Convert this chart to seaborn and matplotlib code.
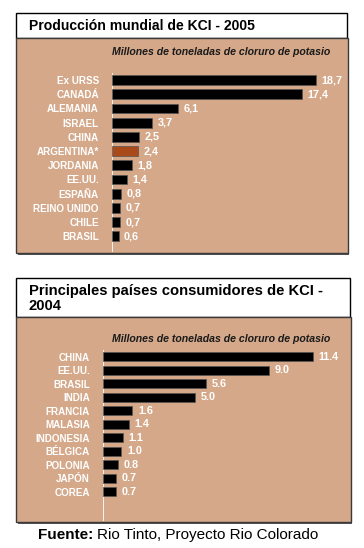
import pandas as pd
import matplotlib.pyplot as plt
import seaborn as sns
from matplotlib.patches import Rectangle

# datos
prod_paises = ["Ex URSS", "CANADÁ", "ALEMANIA", "ISRAEL", "CHINA", "ARGENTINA*",
               "JORDANIA", "EE.UU.", "ESPAÑA", "REINO UNIDO", "CHILE", "BRASIL"]
prod_valores = [18.7, 17.4, 6.1, 3.7, 2.5, 2.4, 1.8, 1.4, 0.8, 0.7, 0.7, 0.6]
prod_etiquetas = ["18,7", "17,4", "6,1", "3,7", "2,5", "2,4", "1,8", "1,4",
                  "0,8", "0,7", "0,7", "0,6"]

cons_paises = ["CHINA", "EE.UU.", "BRASIL", "INDIA", "FRANCIA", "MALASIA",
               "INDONESIA", "BÉLGICA", "POLONIA", "JAPÓN", "COREA"]
cons_valores = [11.4, 9.0, 5.6, 5.0, 1.6, 1.4, 1.1, 1.0, 0.8, 0.7, 0.7]
cons_etiquetas = ["11.4", "9.0", "5.6", "5.0", "1.6", "1.4", "1.1", "1.0",
                  "0.8", "0.7", "0.7"]

W, H = 364, 548
MARRON = "#D4A889"
DESTACADO = "#A84A1A"
SUBTITULO = "Millones de toneladas de cloruro de potasio"

plt.rcParams["font.family"] = ["Liberation Sans", "DejaVu Sans"]

fig = plt.figure(figsize=(W / 100, H / 100), dpi=100)
fig.patch.set_facecolor("white")


def rect(x0, y0, x1, y1):
    # pixeles (origen arriba a la izquierda) -> fracciones de figura
    return [x0 / W, 1 - y1 / H, (x1 - x0) / W, (y1 - y0) / H]


def caja(x0, y0, x1, y1, **kw):
    l, b, w, h = rect(x0, y0, x1, y1)
    fig.add_artist(Rectangle((l, b), w, h, transform=fig.transFigure,
                             zorder=-2, **kw))


def texto(x, y, s, **kw):
    fig.text(x / W, 1 - y / H, s, **kw)


def panel(titulo, tam, y_tit, y_pan, y_fin, x_fin, x_sub, y_sub):
    caja(16, y_tit, x_fin - 1, y_pan, facecolor="white", edgecolor="black", lw=1)
    caja(18, y_pan + 2, x_fin + 1, y_fin + 1.5, facecolor="#555555", lw=0)
    caja(16, y_pan, x_fin, y_fin, facecolor=MARRON, edgecolor="#3a3a3a", lw=1)
    texto(29, (y_tit + y_pan) / 2 + 1, titulo, fontsize=tam, fontweight="bold",
          va="center", linespacing=1.0)
    texto(x_sub, y_sub, SUBTITULO, fontsize=7.6, fontweight="bold",
          style="italic", ha="right", va="center", color="#1a1a1a")


def grafico(ax, paises, valores, etiquetas, destacado, xmax, filas):
    df = pd.DataFrame({"pais": paises, "valor": valores})
    colores = {p: (DESTACADO if p == destacado else "black") for p in paises}
    sns.barplot(data=df, x="valor", y="pais", hue="pais", palette=colores,
                legend=False, width=0.7, edgecolor="#555555", linewidth=0.5,
                saturation=1, ax=ax)
    ax.set_xlim(0, xmax)
    ax.set_ylim(filas - 0.5, -0.5)
    ax.set_facecolor("none")
    for s in ax.spines.values():
        s.set_visible(False)
    ax.axvline(0, color="white", lw=1.2, zorder=0)
    ax.set_xlabel("")
    ax.set_ylabel("")
    ax.tick_params(left=False, bottom=False, labelbottom=False, pad=6)
    for t in ax.get_yticklabels():
        t.set_color("white")
        t.set_fontweight("bold")
        t.set_fontsize(7.1)
    for cont, et in zip(ax.containers, etiquetas):
        ax.bar_label(cont, labels=[et], padding=4, color="white",
                     fontweight="bold", fontsize=7.8)


# producción
panel("Producción mundial de KCI - 2005", 10.1, 13, 38, 253, 348, 330, 52)
ax1 = fig.add_axes(rect(112, 73, 348, 252))
grafico(ax1, prod_paises, prod_valores, prod_etiquetas, "ARGENTINA*",
        (348 - 112) / 10.9, (252 - 73) / 14.2)

# consumo
panel("Principales países consumidores de KCI -\n2004", 10.6, 278, 317, 522,
      351, 330, 339)
ax2 = fig.add_axes(rect(103, 350, 351, 521))
grafico(ax2, cons_paises, cons_valores, cons_etiquetas, None,
        (351 - 103) / 18.4, (521 - 350) / 13.5)

# fuente
texto(93, 535, "Fuente:", fontsize=11, fontweight="bold", ha="right",
      va="center")
texto(97, 535, "Rio Tinto, Proyecto Rio Colorado", fontsize=11, ha="left",
      va="center")

fig.savefig("out.png", dpi=100, facecolor="white")
